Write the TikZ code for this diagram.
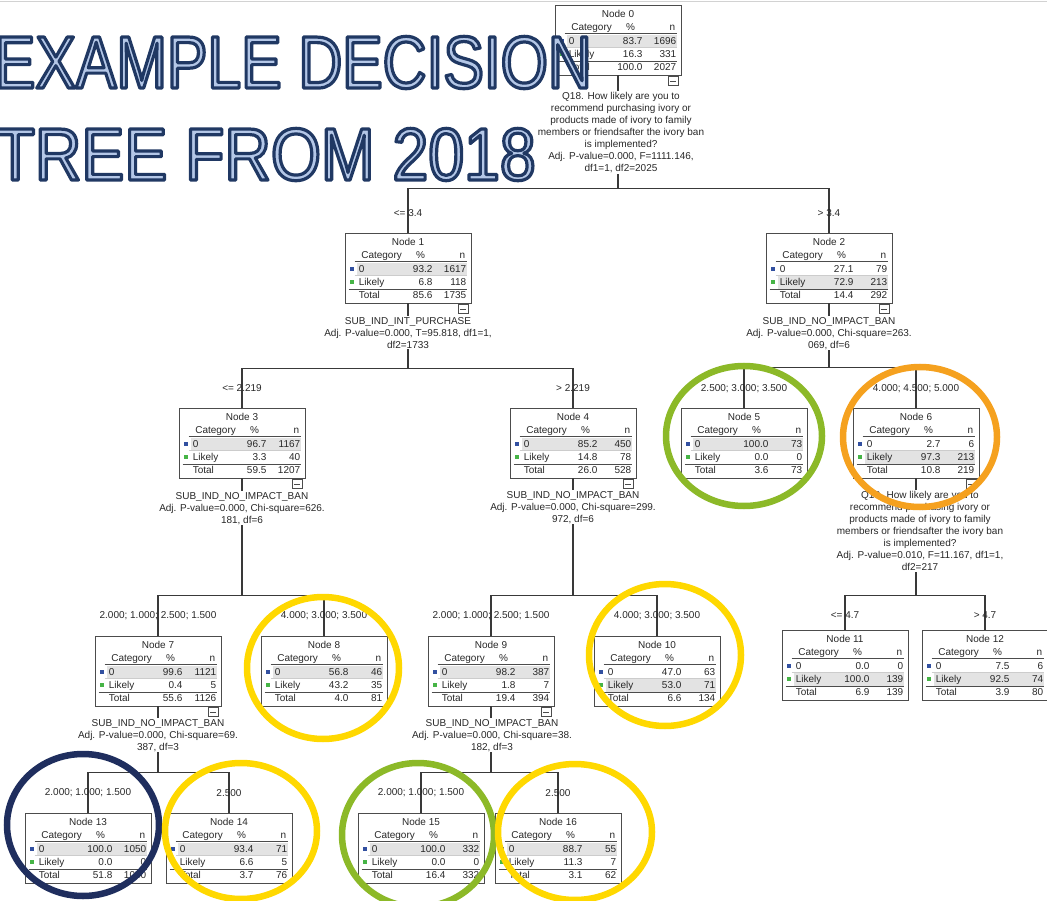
\documentclass[tikz,border=0pt]{standalone}
\usepackage{fontspec}
\setmainfont{Liberation Sans}
\newfontfamily\titlefont[FakeStretch=0.82]{Liberation Sans}
\newfontfamily\titlefontb[FakeStretch=0.87]{Liberation Sans}
\usetikzlibrary{calc}
\pgfdeclarelayer{bg}
\pgfsetlayers{bg,main}
\definecolor{titlefill}{RGB}{180,199,231}
\definecolor{titleline}{RGB}{32,56,100}
\definecolor{ringgreen}{RGB}{140,185,40}
\definecolor{ringorange}{RGB}{245,161,31}
\definecolor{ringyellow}{RGB}{255,216,0}
\definecolor{ringnavy}{RGB}{31,46,94}
\definecolor{txt}{RGB}{40,40,40}
\definecolor{mkblue}{RGB}{50,80,160}
\definecolor{mkgreen}{RGB}{70,180,70}
\newcommand\outlined[1]{\special{pdf:literal direct 2 Tr 3.2 w 1 j 0.125 0.22 0.39 RG}#1\special{pdf:literal direct 0 Tr 0 j}}
\tikzset{
  tbox/.style={draw=gray!60!black, line width=0.8pt, minimum width=126pt, minimum height=70pt, inner sep=0pt},
  tt/.style={font=\fontsize{10}{12}\selectfont, text=txt, inner sep=0pt},
  rowline/.style={draw=gray!60!black, line width=0.6pt},
  edge/.style={draw=gray!45!black, line width=1.2pt},
  split/.style={font=\fontsize{10}{12}\selectfont, text=txt, align=center, fill=white, inner sep=1pt},
  blabel/.style={font=\fontsize{10}{12}\selectfont, text=txt, inner sep=0pt},
  ring/.style={line width=6.5pt},
  titletext/.style={anchor=base east, inner sep=0pt, text=titlefill}
}
% #1 number, #2 centre, #3 #4 row 0, #5 #6 row Likely, #7 #8 total, #9 shaded row (0 or 1)
\newcommand\tbox[9]{%
  \node[tbox] (n#1) at (#2) {};
  \begin{pgfonlayer}{bg}
    \ifnum#9=0
      \fill[gray!22] ($(n#1.north west)+(12,30)$) rectangle ($(n#1.north east)+(-4,43)$);
    \else
      \fill[gray!22] ($(n#1.north west)+(12,43)$) rectangle ($(n#1.north east)+(-4,56)$);
    \fi
  \end{pgfonlayer}
  \node[tt,anchor=base] at ($(n#1.north)+(0,12.5)$) {Node #1};
  \node[tt,anchor=base] at ($(n#1.north west)+(37,26)$) {Category};
  \node[tt,anchor=base] at ($(n#1.north west)+(76,26)$) {\%};
  \node[tt,anchor=base east] at ($(n#1.north east)+(-6,26)$) {n};
  \draw[rowline] ($(n#1.north west)+(10,29)$) -- ($(n#1.north east)+(-4,29)$);
  \fill[mkblue] ($(n#1.north west)+(5,34.5)$) rectangle +(4,4);
  \node[tt,anchor=base west] at ($(n#1.north west)+(14,40)$) {0};
  \node[tt,anchor=base east] at ($(n#1.north west)+(88,40)$) {#3};
  \node[tt,anchor=base east] at ($(n#1.north east)+(-5,40)$) {#4};
  \draw[rowline, draw=gray!40] ($(n#1.north west)+(10,43)$) -- ($(n#1.north east)+(-4,43)$);
  \fill[mkgreen] ($(n#1.north west)+(5,47.5)$) rectangle +(4,4);
  \node[tt,anchor=base west] at ($(n#1.north west)+(14,53)$) {Likely};
  \node[tt,anchor=base east] at ($(n#1.north west)+(88,53)$) {#5};
  \node[tt,anchor=base east] at ($(n#1.north east)+(-5,53)$) {#6};
  \draw[rowline] ($(n#1.north west)+(4,56.5)$) -- ($(n#1.north east)+(-4,56.5)$);
  \node[tt,anchor=base west] at ($(n#1.north west)+(14,66)$) {Total};
  \node[tt,anchor=base east] at ($(n#1.north west)+(88,66)$) {#7};
  \node[tt,anchor=base east] at ($(n#1.north east)+(-5,66)$) {#8};
}
\newcommand\minusbox[1]{%
  \draw[rowline, fill=white] ($(#1.south east)+(-13,1)$) rectangle ($(#1.south east)+(-3,10)$);
  \draw[rowline] ($(#1.south east)+(-11,5.5)$) -- ($(#1.south east)+(-5,5.5)$);
}
\begin{document}
\begin{tikzpicture}[x=1pt,y=-1pt]
\useasboundingbox (0,0) rectangle (1047,901);
\draw[gray!35, line width=1pt] (0,2) -- (1047,2);

% ---- nodes
\tbox{0}{618,40}{83.7}{1696}{16.3}{331}{100.0}{2027}{0}
\tbox{1}{408,268}{93.2}{1617}{6.8}{118}{85.6}{1735}{0}
\tbox{2}{829,268}{27.1}{79}{72.9}{213}{14.4}{292}{1}
\tbox{3}{242,443}{96.7}{1167}{3.3}{40}{59.5}{1207}{0}
\tbox{4}{573,443}{85.2}{450}{14.8}{78}{26.0}{528}{0}
\tbox{5}{744,443}{100.0}{73}{0.0}{0}{3.6}{73}{0}
\tbox{6}{916,443}{2.7}{6}{97.3}{213}{10.8}{219}{1}
\tbox{7}{158,671}{99.6}{1121}{0.4}{5}{55.6}{1126}{0}
\tbox{8}{324,671}{56.8}{46}{43.2}{35}{4.0}{81}{0}
\tbox{9}{491,671}{98.2}{387}{1.8}{7}{19.4}{394}{0}
\tbox{10}{657,671}{47.0}{63}{53.0}{71}{6.6}{134}{1}
\tbox{11}{845,665}{0.0}{0}{100.0}{139}{6.9}{139}{1}
\tbox{12}{985,665}{7.5}{6}{92.5}{74}{3.9}{80}{1}
\tbox{13}{88,848}{100.0}{1050}{0.0}{0}{51.8}{1050}{0}
\tbox{14}{229,848}{93.4}{71}{6.6}{5}{3.7}{76}{0}
\tbox{15}{421,848}{100.0}{332}{0.0}{0}{16.4}{332}{0}
\tbox{16}{558,848}{88.7}{55}{11.3}{7}{3.1}{62}{0}

% ---- junctions
\coordinate (j0) at ($(n0.south)+(0,113)$);
\coordinate (j1) at ($(n1.south)+(0,65)$);
\coordinate (j2) at ($(n2.south)+(0,64)$);
\coordinate (j3) at ($(n3.south)+(0,117)$);
\coordinate (j4) at ($(n4.south)+(0,117)$);
\coordinate (j6) at ($(n6.south)+(0,117)$);
\coordinate (j7) at ($(n7.south)+(0,66)$);
\coordinate (j9) at ($(n9.south)+(0,66)$);

% ---- connectors
\draw[edge] (n0.south) -- (j0) -| (n1.north);
\draw[edge] (j0) -| (n2.north);
\draw[edge] (n1.south) -- (j1) -| (n3.north);
\draw[edge] (j1) -| (n4.north);
\draw[edge] (n2.south) -- (j2) -| (n5.north);
\draw[edge] (j2) -| (n6.north);
\draw[edge] (n3.south) -- (j3) -| (n7.north);
\draw[edge] (j3) -| (n8.north);
\draw[edge] (n4.south) -- (j4) -| (n9.north);
\draw[edge] (j4) -| (n10.north);
\draw[edge] (n6.south) -- (j6) -| (n11.north);
\draw[edge] (j6) -| (n12.north);
\draw[edge] (n7.south) -- (j7) -| (n13.north);
\draw[edge] (j7) -| (n14.north);
\draw[edge] (n9.south) -- (j9) -| (n15.north);
\draw[edge] (j9) -| (n16.north);

\foreach \m in {n0,n1,n2,n3,n4,n6,n7,n9}{\minusbox{\m}}

% ---- split texts
\node[split, anchor=north] (s0) at (621,91) {Q18. How likely are you to\\recommend purchasing ivory or\\products made of ivory to family\\members or friendsafter the ivory ban\\is implemented?\\Adj. P-value=0.000, F=1111.146,\\df1=1, df2=2025};
\node[split, anchor=north] (s1) at (408,316) {SUB\_IND\_INT\_PURCHASE\\Adj. P-value=0.000, T=95.818, df1=1,\\df2=1733};
\node[split, anchor=north] (s2) at (829,316) {SUB\_IND\_NO\_IMPACT\_BAN\\Adj. P-value=0.000, Chi-square=263.\\069, df=6};
\node[split, anchor=north] (s3) at (242,491) {SUB\_IND\_NO\_IMPACT\_BAN\\Adj. P-value=0.000, Chi-square=626.\\181, df=6};
\node[split, anchor=north] (s4) at (573,490) {SUB\_IND\_NO\_IMPACT\_BAN\\Adj. P-value=0.000, Chi-square=299.\\972, df=6};
\node[split, anchor=north] (s6) at (920,490) {Q18. How likely are you to\\recommend purchasing ivory or\\products made of ivory to family\\members or friendsafter the ivory ban\\is implemented?\\Adj. P-value=0.010, F=11.167, df1=1,\\df2=217};
\node[split, anchor=north] (s7) at (158,718) {SUB\_IND\_NO\_IMPACT\_BAN\\Adj. P-value=0.000, Chi-square=69.\\387, df=3};
\node[split, anchor=north] (s9) at (492,718) {SUB\_IND\_NO\_IMPACT\_BAN\\Adj. P-value=0.000, Chi-square=38.\\182, df=3};

% ---- branch labels
\node[blabel] (l1) at (408,213) {<= 3.4};
\node[blabel] (l2) at (829,213) {> 3.4};
\node[blabel] (l3) at (242,388) {<= 2.219};
\node[blabel] (l4) at (573,388) {> 2.219};
\node[blabel] (l5) at (744,389) {2.500; 3.000; 3.500};
\node[blabel] (l6) at (916,389) {4.000; 4.500; 5.000};
\node[blabel] (l7) at (158,616) {2.000; 1.000; 2.500; 1.500};
\node[blabel] (l8) at (324,616) {4.000; 3.000; 3.500};
\node[blabel] (l9) at (491,616) {2.000; 1.000; 2.500; 1.500};
\node[blabel] (l10) at (657,616) {4.000; 3.000; 3.500};
\node[blabel] (l11) at (845,615) {<= 4.7};
\node[blabel] (l12) at (985,615) {> 4.7};
\node[blabel] (l13) at (88,793) {2.000; 1.000; 1.500};
\node[blabel] (l14) at (229,793) {2.500};
\node[blabel] (l15) at (421,793) {2.000; 1.000; 1.500};
\node[blabel] (l16) at (558,793) {2.500};

% ---- highlight rings
\draw[ring, ringgreen]  (744,436) ellipse [x radius=78, y radius=70];
\draw[ring, ringorange] (920,437) ellipse [x radius=77, y radius=70];
\draw[ring, ringyellow] (323,668) ellipse [x radius=76, y radius=71];
\draw[ring, ringyellow] (665,655) ellipse [x radius=76, y radius=71];
\draw[ring, ringnavy]   (83,825)  ellipse [x radius=76, y radius=71];
\draw[ring, ringyellow] (241,831) ellipse [x radius=76, y radius=68];
\draw[ring, ringgreen]  (418,835) ellipse [x radius=76, y radius=72];
\draw[ring, ringyellow] (575,832) ellipse [x radius=77, y radius=68];

% ---- title
\node[titletext, font=\titlefont\fontsize{74}{74}\selectfont] (title1) at (592,88) {\outlined{EXAMPLE DECISION}};
\node[titletext, font=\titlefontb\fontsize{74}{74}\selectfont] (title2) at (536,180) {\outlined{TREE FROM 2018}};
\end{tikzpicture}
\end{document}
